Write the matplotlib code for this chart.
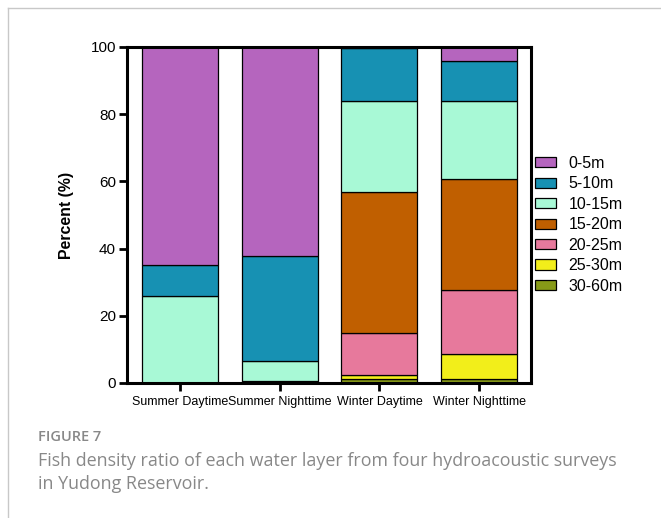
import matplotlib
matplotlib.use("Agg")
import matplotlib.pyplot as plt
from matplotlib.lines import Line2D
import numpy as np

categories = ["Summer Daytime", "Summer Nighttime", "Winter Daytime", "Winter Nighttime"]
layers = ["0-5m", "5-10m", "10-15m", "15-20m", "20-25m", "25-30m", "30-60m"]
colors = ["#B565BE", "#1791B3", "#A8F9D6", "#C05F00", "#E7799C", "#F2EE1A", "#879A17"]

v_0_5 = [65.0, 62.2, 0.3, 4.2]
v_5_10 = [9.0, 31.2, 15.7, 11.9]
v_10_15 = [26.0, 6.1, 27.2, 23.3]
v_15_20 = [0.0, 0.2, 41.9, 32.8]
v_20_25 = [0.0, 0.1, 12.4, 19.3]
v_25_30 = [0.0, 0.0, 1.2, 7.4]
v_30_60 = [0.0, 0.2, 1.3, 1.1]

values = [v_0_5, v_5_10, v_10_15, v_15_20, v_20_25, v_25_30, v_30_60]

plt.rcParams['font.family'] = ['Liberation Sans', 'DejaVu Sans']

fig = plt.figure(figsize=(6.61, 5.18), dpi=100)
ax = fig.add_axes([127/661, 1-383/518, (531-127)/661, (383-47)/518])

x = np.arange(len(categories))
bottom = np.zeros(len(categories))
handles = {}
# stack from deepest layer at bottom
for lab, col, vals in reversed(list(zip(layers, colors, values))):
    vals = np.array(vals)
    b = ax.bar(x, vals, width=0.76, bottom=bottom, color=col, edgecolor="black",
               linewidth=0.9, label=lab)
    handles[lab] = b
    bottom += vals

ax.set_xlim(-0.53, 3.52)
ax.set_ylim(0, 100)
ax.set_yticks([0, 20, 40, 60, 80, 100])
ax.set_xticks(x)
ax.set_xticklabels(categories, fontsize=9)
ax.tick_params(axis='y', labelsize=11, width=2, length=6, direction='out', pad=2)
ax.tick_params(axis='x', width=2, length=6, direction='out', pad=3)
for s in ax.spines.values():
    s.set_linewidth(2.2)
ax.set_ylabel("Percent (%)", fontsize=11.4, fontweight='bold', labelpad=12)

leg = ax.legend([handles[l] for l in layers], layers, loc='upper left',
                bbox_to_anchor=(535/661, 1-156/518), bbox_transform=fig.transFigure,
                frameon=False, fontsize=11.5, handlelength=1.3, handleheight=0.6,
                handletextpad=0.8, labelspacing=0.34, borderaxespad=0, borderpad=0)

# frame lines
fig.add_artist(Line2D([8/661, 1], [1-8/518, 1-8/518], transform=fig.transFigure,
                      color="#c8c8c8", linewidth=1))
fig.add_artist(Line2D([8/661, 8/661], [0, 1-8/518], transform=fig.transFigure,
                      color="#c8c8c8", linewidth=1))

cap_color = "#888888"
fig.text(38/661, 1-437/518, "FIGURE 7", fontsize=10.5, color=cap_color, fontweight='semibold',
         family=['Open Sans', 'DejaVu Sans'], va='center', ha='left')
fig.text(38/661, 1-461/518, "Fish density ratio of each water layer from four hydroacoustic surveys",
         fontsize=12.9, color=cap_color, family=['Open Sans', 'DejaVu Sans'], va='center', ha='left')
fig.text(38/661, 1-484/518, "in Yudong Reservoir.",
         fontsize=12.9, color=cap_color, family=['Open Sans', 'DejaVu Sans'], va='center', ha='left')

fig.savefig("out.png", dpi=100)
